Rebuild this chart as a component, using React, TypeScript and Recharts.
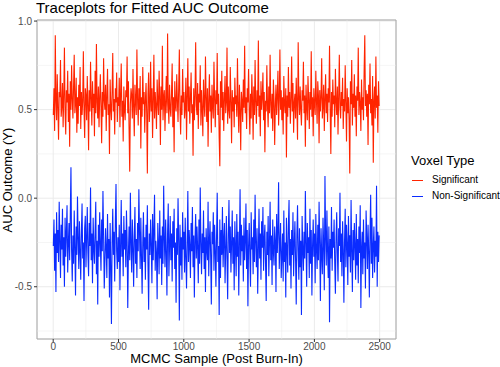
import React from "react";
import {
  LineChart,
  Line,
  XAxis,
  YAxis,
  CartesianGrid,
  ReferenceLine,
  ReferenceArea,
} from "recharts";

// thinned trace: one draw kept every 5 MCMC samples
const significant = [
  0.47, 0.62, 0.38, 0.92, 0.55, 0.44, 0.70, 0.51, 0.33, 0.60,
  0.57, 0.78, 0.46, 0.52, 0.65, 0.40, 0.58, 0.85, 0.49, 0.36,
  0.61, 0.54, 0.72, 0.43, 0.59, 0.29, 0.66, 0.50, 0.75, 0.56,
  0.45, 0.63, 0.81, 0.48, 0.53, 0.68, 0.37, 0.57, 0.42, 0.64,
  0.52, 0.74, 0.39, 0.60, 0.47, 0.55, 0.83, 0.50, 0.34, 0.62,
  0.58, 0.44, 0.69, 0.53, 0.27, 0.61, 0.49, 0.77, 0.56, 0.41,
  0.66, 0.51, 0.59, 0.35, 0.72, 0.48, 0.87, 0.54, 0.45, 0.63,
  0.40, 0.57, 0.70, 0.52, 0.31, 0.60, 0.46, 0.79, 0.55, 0.50,
  0.64, 0.38, 0.58, 0.73, 0.47, 0.53, 0.25, 0.67, 0.51, 0.44,
  0.60, 0.82, 0.49, 0.56, 0.36, 0.62, 0.54, 0.71, 0.43, 0.57,
  0.52, 0.68, 0.40, 0.59, 0.76, 0.46, 0.55, 0.32, 0.63, 0.50,
  0.44, 0.61, 0.57, 0.80, 0.48, 0.66, 0.39, 0.15, 0.53, 0.62,
  0.58, 0.45, 0.73, 0.51, 0.35, 0.64, 0.55, 0.47, 0.84, 0.56,
  0.41, 0.62, 0.50, 0.69, 0.28, 0.57, 0.46, 0.74, 0.53, 0.60,
  0.37, 0.55, 0.65, 0.48, 0.14, 0.59, 0.71, 0.43, 0.52, 0.77,
  0.49, 0.62, 0.34, 0.56, 0.81, 0.45, 0.60, 0.52, 0.39, 0.67,
  0.54, 0.47, 0.72, 0.58, 0.30, 0.63, 0.50, 0.86, 0.44, 0.57,
  0.61, 0.38, 0.55, 0.69, 0.48, 0.93, 0.53, 0.42, 0.64, 0.51,
  0.46, 0.59, 0.76, 0.40, 0.57, 0.26, 0.66, 0.52, 0.49, 0.70,
  0.55, 0.43, 0.62, 0.84, 0.50, 0.36, 0.58, 0.47, 0.73, 0.54,
  0.60, 0.45, 0.51, 0.68, 0.33, 0.57, 0.79, 0.49, 0.63, 0.42,
  0.56, 0.71, 0.48, 0.53, 0.24, 0.62, 0.44, 0.58, 0.88, 0.52,
  0.47, 0.65, 0.39, 0.59, 0.54, 0.75, 0.41, 0.61, 0.50, 0.35,
  0.67, 0.53, 0.46, 0.80, 0.57, 0.43, 0.62, 0.29, 0.55, 0.70,
  0.49, 0.58, 0.37, 0.64, 0.52, 0.45, 0.77, 0.56, 0.40, 0.61,
  0.53, 0.82, 0.47, 0.59, 0.34, 0.18, 0.66, 0.51, 0.72, 0.44,
  0.60, 0.38, 0.56, 0.69, 0.48, 0.54, 0.85, 0.42, 0.63, 0.50,
  0.45, 0.74, 0.55, 0.31, 0.61, 0.49, 0.57, 0.40, 0.68, 0.53,
  0.58, 0.46, 0.79, 0.52, 0.37, 0.64, 0.50, 0.27, 0.60, 0.55,
  0.43, 0.67, 0.51, 0.86, 0.48, 0.57, 0.39, 0.62, 0.54, 0.73,
  0.50, 0.36, 0.59, 0.45, 0.70, 0.56, 0.33, 0.63, 0.47, 0.78,
  0.54, 0.42, 0.61, 0.52, 0.89, 0.46, 0.58, 0.35, 0.66, 0.50,
  0.57, 0.71, 0.44, 0.60, 0.26, 0.55, 0.49, 0.75, 0.52, 0.40,
  0.63, 0.48, 0.81, 0.53, 0.45, 0.59, 0.38, 0.67, 0.56, 0.30,
  0.52, 0.64, 0.47, 0.58, 0.72, 0.41, 0.55, 0.84, 0.50, 0.61,
  0.44, 0.57, 0.36, 0.69, 0.53, 0.48, 0.62, 0.23, 0.58, 0.46,
  0.74, 0.51, 0.60, 0.42, 0.56, 0.80, 0.49, 0.65, 0.37, 0.54,
  0.59, 0.45, 0.68, 0.52, 0.33, 0.88, 0.57, 0.47, 0.63, 0.50,
  0.41, 0.61, 0.55, 0.77, 0.48, 0.58, 0.29, 0.64, 0.52, 0.44,
  0.69, 0.56, 0.39, 0.60, 0.50, 0.83, 0.46, 0.57, 0.35, 0.62,
  0.53, 0.47, 0.72, 0.55, 0.42, 0.66, 0.58, 0.31, 0.61, 0.49,
  0.57, 0.79, 0.45, 0.52, 0.64, 0.38, 0.56, 0.70, 0.48, 0.59,
  0.43, 0.62, 0.54, 0.86, 0.50, 0.25, 0.60, 0.46, 0.67, 0.53,
  0.58, 0.40, 0.73, 0.55, 0.47, 0.63, 0.36, 0.57, 0.81, 0.51,
  0.45, 0.60, 0.52, 0.68, 0.39, 0.56, 0.49, 0.75, 0.54, 0.32,
  0.62, 0.48, 0.57, 0.44, 0.14, 0.66, 0.53, 0.78, 0.41, 0.59,
  0.51, 0.70, 0.46, 0.58, 0.35, 0.63, 0.55, 0.85, 0.47, 0.60,
  0.54, 0.38, 0.67, 0.50, 0.57, 0.44, 0.72, 0.92, 0.52, 0.61,
  0.46, 0.59, 0.30, 0.64, 0.53, 0.76, 0.48, 0.56, 0.41, 0.69,
  0.20, 0.55, 0.63, 0.45, 0.80, 0.51, 0.58, 0.37, 0.66, 0.52,
];

const nonSignificant = [
  -0.27, -0.12, -0.41, -0.20, -0.53, -0.08, -0.31, -0.18, -0.36, -0.02,
  -0.24, -0.45, -0.15, -0.29, -0.06, -0.38, -0.22, -0.50, -0.11, -0.33,
  -0.19, -0.04, -0.42, -0.26, -0.14, -0.35, -0.09, 0.175, -0.30, -0.47,
  -0.21, -0.37, -0.07, -0.28, -0.55, -0.16, -0.32, 0.01, -0.23, -0.40,
  -0.13, -0.30, -0.46, -0.19, -0.03, -0.34, -0.25, -0.58, -0.17, -0.10,
  -0.39, -0.22, -0.05, -0.31, -0.44, -0.14, -0.27, 0.06, -0.35, -0.20,
  -0.48, -0.11, -0.29, -0.37, -0.18, -0.02, -0.43, -0.24, -0.60, -0.15,
  -0.33, -0.08, -0.26, -0.41, -0.12, -0.30, 0.04, -0.21, -0.51, -0.36,
  -0.17, -0.28, -0.45, -0.09, -0.34, -0.23, -0.56, -0.14, -0.38, -0.71,
  -0.25, -0.06, -0.32, -0.19, -0.47, -0.13, 0.08, -0.30, -0.40, -0.22,
  -0.36, -0.15, -0.52, -0.27, -0.01, -0.33, -0.20, -0.44, -0.10, -0.29,
  -0.18, -0.39, -0.07, -0.24, -0.62, -0.31, -0.16, -0.35, 0.03, -0.26,
  -0.42, -0.12, -0.28, -0.50, -0.21, -0.05, -0.37, -0.23, -0.45, -0.14,
  -0.30, 0.05, -0.19, -0.40, -0.11, -0.33, -0.54, -0.25, -0.08, -0.36,
  -0.22, -0.46, -0.15, -0.29, -0.04, -0.38, -0.63, -0.20, -0.32, -0.12,
  -0.27, -0.48, -0.09, -0.35, -0.18, 0.02, -0.41, -0.24, -0.31, -0.57,
  -0.14, -0.26, -0.43, -0.07, -0.34, -0.21, -0.49, -0.16, -0.37, 0.07,
  -0.23, -0.39, -0.12, -0.30, -0.55, -0.19, -0.03, -0.44, -0.27, -0.10,
  -0.35, -0.20, -0.47, -0.13, -0.28, -0.06, -0.40, -0.25, -0.59, -0.17,
  -0.32, 0.00, -0.24, -0.69, -0.15, -0.38, -0.22, -0.46, -0.08, -0.29,
  -0.19, -0.42, -0.11, -0.33, -0.51, -0.26, 0.04, -0.36, -0.18, -0.27,
  -0.45, -0.14, -0.30, -0.05, -0.39, -0.21, -0.56, -0.23, -0.09, -0.34,
  -0.16, -0.28, -0.48, -0.12, -0.37, 0.06, -0.25, -0.43, -0.20, -0.31,
  -0.07, -0.40, -0.22, -0.53, -0.17, -0.29, -0.35, -0.02, -0.44, -0.24,
  -0.13, -0.33, -0.60, -0.19, -0.26, -0.08, -0.41, -0.15, -0.30, -0.50,
  -0.21, 0.03, -0.36, -0.27, -0.66, -0.12, -0.45, -0.18, -0.32, -0.05,
  -0.39, -0.23, -0.14, -0.48, -0.29, -0.10, -0.34, -0.57, -0.20, -0.01,
  -0.31, -0.16, -0.42, -0.25, -0.07, -0.37, -0.22, -0.52, -0.13, -0.28,
  -0.44, -0.09, -0.33, -0.19, -0.55, -0.26, 0.05, -0.38, -0.15, -0.30,
  -0.21, -0.47, -0.11, -0.35, -0.24, -0.03, -0.40, -0.18, -0.61, -0.27,
  -0.14, -0.32, -0.50, -0.08, -0.29, -0.22, -0.43, -0.12, -0.36, 0.02,
  -0.25, -0.39, -0.17, -0.54, -0.30, -0.06, -0.34, -0.20, -0.46, -0.13,
  -0.28, -0.05, -0.41, -0.23, -0.15, -0.37, -0.58, -0.19, -0.32, -0.10,
  -0.44, -0.26, -0.02, -0.35, -0.21, -0.49, -0.12, -0.30, -0.38, -0.16,
  -0.24, -0.53, -0.09, -0.31, -0.18, 0.09, -0.40, -0.27, -0.14, -0.45,
  -0.33, -0.20, -0.47, -0.07, -0.36, -0.25, -0.56, -0.11, -0.29, -0.42,
  -0.15, -0.01, -0.38, -0.23, -0.51, -0.18, -0.32, -0.08, -0.44, -0.26,
  -0.13, -0.35, -0.60, -0.21, -0.04, -0.30, -0.46, -0.17, -0.39, -0.24,
  -0.66, -0.10, -0.28, -0.41, -0.19, -0.34, 0.04, -0.26, -0.50, -0.14,
  -0.31, -0.22, -0.45, -0.06, -0.37, -0.18, -0.55, -0.27, -0.12, -0.33,
  -0.20, -0.48, -0.09, -0.29, -0.40, -0.15, -0.35, -0.02, -0.25, -0.58,
  -0.17, -0.32, -0.43, -0.11, -0.26, -0.52, 0.125, -0.21, -0.38, -0.07,
  -0.30, -0.45, -0.16, -0.70, -0.23, -0.34, -0.05, -0.41, -0.19, -0.28,
  -0.12, -0.37, -0.54, -0.22, -0.08, -0.31, -0.47, -0.17, -0.27, 0.03,
  -0.36, -0.20, -0.44, -0.13, -0.29, -0.59, -0.24, -0.06, -0.39, -0.15,
  -0.26, -0.49, -0.10, -0.33, -0.21, -0.42, -0.01, -0.30, -0.53, -0.18,
  -0.35, -0.14, -0.27, -0.46, -0.09, -0.38, -0.23, -0.48, -0.16, -0.31,
  -0.04, -0.62, -0.28, -0.19, -0.43, -0.12, -0.34, -0.25, -0.51, -0.07,
  -0.22, -0.40, -0.15, -0.30, -0.56, -0.20, 0.02, -0.37, -0.11, -0.45,
  -0.27, -0.16, -0.42, -0.24, -0.33, 0.07, -0.50, -0.19, -0.36, -0.21,
];

const xTicks = [0, 500, 1000, 1500, 2000, 2500];
const xMinor = [250, 750, 1250, 1750, 2250];
const yTicks = [-0.5, 0, 0.5, 1];
const yMinor = [-0.75, -0.25, 0.25, 0.75];

const RED = "#ff2400";
const BLUE = "#0b2cff";
const FONT = "'Liberation Sans', Arial, Helvetica, sans-serif";

const data = significant.map((v, i) => ({
  sample: i * 5 + 1,
  sig: v,
  nonsig: nonSignificant[i],
}));

const X_DOMAIN: [number, number] = [-124, 2625];
const Y_DOMAIN: [number, number] = [-0.795, 1.006];

export default function App() {
  return (
    <div
      style={{
        position: "absolute",
        left: 0,
        top: 0,
        width: 500,
        height: 367,
        background: "#fff",
        fontFamily: FONT,
      }}
    >
      <div
        style={{
          position: "absolute",
          left: 36,
          top: 0,
          fontSize: 15,
          lineHeight: "16px",
          color: "#000",
          whiteSpace: "nowrap",
        }}
      >
        Traceplots for Fitted AUC Outcome
      </div>

      <LineChart
        width={500}
        height={367}
        data={data}
        margin={{ top: 20, right: 104, bottom: 0, left: 0 }}
      >
        <CartesianGrid stroke="#ebebeb" strokeWidth={1} />
        {xMinor.map((x) => (
          <ReferenceLine key={"x" + x} x={x} stroke="#ebebeb" strokeWidth={0.5} />
        ))}
        {yMinor.map((y) => (
          <ReferenceLine key={"y" + y} y={y} stroke="#ebebeb" strokeWidth={0.5} />
        ))}
        <XAxis
          dataKey="sample"
          type="number"
          domain={X_DOMAIN}
          ticks={xTicks}
          allowDataOverflow
          height={28}
          axisLine={false}
          tickLine={{ stroke: "#333" }}
          tickSize={3}
          tickMargin={1}
          tick={{ fontSize: 10, fill: "#4d4d4d", fontFamily: FONT }}
        />
        <YAxis
          type="number"
          domain={Y_DOMAIN}
          ticks={yTicks}
          allowDataOverflow
          width={37}
          axisLine={false}
          tickLine={{ stroke: "#333" }}
          tickSize={3}
          tickMargin={2}
          tickFormatter={(v: number) => v.toFixed(1)}
          tick={{ fontSize: 10, fill: "#4d4d4d", fontFamily: FONT }}
        />
        <Line
          dataKey="sig"
          type="linear"
          stroke={RED}
          strokeWidth={1.1}
          dot={false}
          isAnimationActive={false}
        />
        <Line
          dataKey="nonsig"
          type="linear"
          stroke={BLUE}
          strokeWidth={1.1}
          dot={false}
          isAnimationActive={false}
        />
        <ReferenceArea
          x1={X_DOMAIN[0]}
          x2={X_DOMAIN[1]}
          y1={Y_DOMAIN[0]}
          y2={Y_DOMAIN[1]}
          fill="none"
          stroke="#a6a6a6"
          strokeWidth={1}
          ifOverflow="visible"
        />
      </LineChart>

      <div
        style={{
          position: "absolute",
          left: 216.5,
          top: 351,
          transform: "translateX(-50%)",
          fontSize: 13,
          whiteSpace: "nowrap",
        }}
      >
        MCMC Sample (Post Burn-In)
      </div>
      <div
        style={{
          position: "absolute",
          left: 7,
          top: 180,
          transform: "translate(-50%, -50%) rotate(-90deg)",
          fontSize: 13,
          whiteSpace: "nowrap",
        }}
      >
        AUC Outcome (Y)
      </div>

      <div style={{ position: "absolute", left: 411, top: 153, fontSize: 13, whiteSpace: "nowrap" }}>
        Voxel Type
      </div>
      {[
        { label: "Significant", color: RED, y: 180 },
        { label: "Non-Significant", color: BLUE, y: 196 },
      ].map((item) => (
        <React.Fragment key={item.label}>
          <div
            style={{
              position: "absolute",
              left: 412,
              top: item.y - 0.5,
              width: 11,
              height: 1,
              background: item.color,
            }}
          />
          <div
            style={{
              position: "absolute",
              left: 432,
              top: item.y - 6.5,
              fontSize: 10,
              lineHeight: "12px",
              whiteSpace: "nowrap",
            }}
          >
            {item.label}
          </div>
        </React.Fragment>
      ))}
    </div>
  );
}
